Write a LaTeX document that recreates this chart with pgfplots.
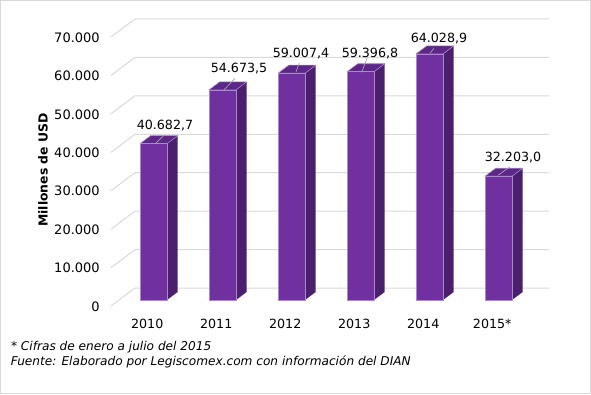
\documentclass[border=0pt]{standalone}
\usepackage{fontspec}
\setmainfont{DejaVu Sans}
\usepackage{pgfplots}
\usepackage{pgfplotstable}
\pgfplotsset{compat=1.18}
\definecolor{front}{HTML}{7030A0}
\definecolor{sidec}{HTML}{4B1E6E}
\definecolor{topc}{HTML}{5D2789}
\definecolor{edgec}{HTML}{A88AC9}
\definecolor{gridc}{HTML}{D9D9D9}
\definecolor{leaderc}{HTML}{A6A6A6}
\pgfplotstableread{
x y dx dy
0 40682.7 8.6 13.3
1 54673.5 12.4 15.8
2 59007.4 7.1 14.6
3 59396.8 7.1 13.7
4 64028.9 7.1 11.5
5 32203.0 10.9 14.0
}\datatable
\begin{document}
\begin{tikzpicture}
\useasboundingbox (0,0) rectangle (443.25pt,295.5pt);
\draw[gridc, line width=0.75pt] (0.375pt,0.375pt) rectangle (442.875pt,295.125pt);
\begin{axis}[
  at={(78.9pt,64.74pt)}, anchor=south west,
  scale only axis, width=336.375pt, height=219.05pt,
  xmin=-0.7, xmax=5.8, ymin=-2000, ymax=74000,
  clip=false,
  axis line style={draw=none},
  major tick length=0pt, tick style={draw=none},
  xtick={0,1,2,3,4,5},
  xticklabels={2010,2011,2012,2013,2014,2015*},
  ytick={0,10000,20000,30000,40000,50000,60000,70000},
  scaled y ticks=false,
  /pgf/number format/assume math mode=true,
  /pgf/number format/1000 sep={.},
  yticklabel style={font=\fontsize{9.75}{11}\selectfont, anchor=east, inner sep=0pt, xshift=-3.9pt, yshift=-4.9pt},
  xticklabel style={font=\fontsize{9.5}{11}\selectfont, anchor=center, inner sep=0pt, xshift=-4.7pt, yshift=-11.85pt},
  ylabel={Millones de USD},
  every axis y label/.style={at={(axis description cs:-0.1386,0.4714)}, rotate=90, anchor=center, font=\bfseries\fontsize{9.3}{11}\selectfont},
]
% back wall grid with perspective
\addplot[gridc, line width=0.75pt, mark=none] coordinates {(-0.616,-1561) (-0.268,3122) (5.732,3122)};
\addplot[gridc, line width=0.75pt, mark=none] coordinates {(-0.616,8439) (-0.268,13122) (5.732,13122)};
\addplot[gridc, line width=0.75pt, mark=none] coordinates {(-0.616,18439) (-0.268,23122) (5.732,23122)};
\addplot[gridc, line width=0.75pt, mark=none] coordinates {(-0.616,28439) (-0.268,33122) (5.732,33122)};
\addplot[gridc, line width=0.75pt, mark=none] coordinates {(-0.616,38439) (-0.268,43122) (5.732,43122)};
\addplot[gridc, line width=0.75pt, mark=none] coordinates {(-0.616,48439) (-0.268,53122) (5.732,53122)};
\addplot[gridc, line width=0.75pt, mark=none] coordinates {(-0.616,58439) (-0.268,63122) (5.732,63122)};
\addplot[gridc, line width=0.75pt, mark=none] coordinates {(-0.616,68439) (-0.268,73122) (5.732,73122)};
% side faces
\addplot[fill=sidec, draw=none, mark=none] coordinates {(0.1957,0) (0.3507,2082) (0.3507,42764.7) (0.1957,40682.7)};
\addplot[fill=sidec, draw=none, mark=none] coordinates {(1.1957,0) (1.3507,2082) (1.3507,56755.5) (1.1957,54673.5)};
\addplot[fill=sidec, draw=none, mark=none] coordinates {(2.1957,0) (2.3507,2082) (2.3507,61089.4) (2.1957,59007.4)};
\addplot[fill=sidec, draw=none, mark=none] coordinates {(3.1957,0) (3.3507,2082) (3.3507,61478.8) (3.1957,59396.8)};
\addplot[fill=sidec, draw=none, mark=none] coordinates {(4.1957,0) (4.3507,2082) (4.3507,66110.9) (4.1957,64028.9)};
\addplot[fill=sidec, draw=none, mark=none] coordinates {(5.1957,0) (5.3507,2082) (5.3507,34285) (5.1957,32203)};
% top faces
\addplot[fill=topc, draw=edgec, line width=0.4pt, mark=none] coordinates {(-0.1957,40682.7) (0.1957,40682.7) (0.3507,42764.7) (-0.0407,42764.7) (-0.1957,40682.7)};
\addplot[fill=topc, draw=edgec, line width=0.4pt, mark=none] coordinates {(0.8043,54673.5) (1.1957,54673.5) (1.3507,56755.5) (0.9593,56755.5) (0.8043,54673.5)};
\addplot[fill=topc, draw=edgec, line width=0.4pt, mark=none] coordinates {(1.8043,59007.4) (2.1957,59007.4) (2.3507,61089.4) (1.9593,61089.4) (1.8043,59007.4)};
\addplot[fill=topc, draw=edgec, line width=0.4pt, mark=none] coordinates {(2.8043,59396.8) (3.1957,59396.8) (3.3507,61478.8) (2.9593,61478.8) (2.8043,59396.8)};
\addplot[fill=topc, draw=edgec, line width=0.4pt, mark=none] coordinates {(3.8043,64028.9) (4.1957,64028.9) (4.3507,66110.9) (3.9593,66110.9) (3.8043,64028.9)};
\addplot[fill=topc, draw=edgec, line width=0.4pt, mark=none] coordinates {(4.8043,32203) (5.1957,32203) (5.3507,34285) (4.9593,34285) (4.8043,32203)};
% front faces
\addplot[ybar, bar width=0.391, fill=front, draw=edgec, line width=0.5pt] table[x=x, y=y] {\datatable};
% leader lines
\addplot[leaderc, line width=0.5pt, mark=none] coordinates {(0.022,40579) (0.142,42686)};
\addplot[leaderc, line width=0.5pt, mark=none] coordinates {(1.012,54465) (1.181,57692)};
\addplot[leaderc, line width=0.5pt, mark=none] coordinates {(2.065,59320) (2.113,61739)};
\addplot[leaderc, line width=0.5pt, mark=none] coordinates {(3.017,59241) (3.099,63144)};
\addplot[leaderc, line width=0.5pt, mark=none] coordinates {(4.007,64211) (4.065,65512)};
\addplot[leaderc, line width=0.5pt, mark=none] coordinates {(4.997,32515) (5.167,34675)};
% value labels
\addplot[draw=none, mark=none,
  visualization depends on={\thisrow{dx} \as \ldx},
  visualization depends on={\thisrow{dy} \as \ldy},
  point meta=explicit,
  nodes near coords={\pgfmathprintnumber[fixed, fixed zerofill, precision=1, 1000 sep={.}, dec sep={,}, assume math mode=true]{\pgfplotspointmeta}},
  nodes near coords align={center},
  every node near coord/.style={anchor=center, inner sep=0pt, xshift=\ldx pt, yshift=\ldy pt, font=\fontsize{9.5}{11}\selectfont, text=black},
] table[x=x, y=y, meta=y] {\datatable};
\end{axis}
\node[anchor=base west, inner sep=0pt, font=\itshape\fontsize{9.1}{11}\selectfont] at (8.1pt,33pt) {* Cifras de enero a julio del 2015};
\node[anchor=base west, inner sep=0pt, font=\itshape\fontsize{9.1}{11}\selectfont] at (7.9pt,21.75pt) {Fuente: Elaborado por Legiscomex.com con información del DIAN};
\end{tikzpicture}
\end{document}
